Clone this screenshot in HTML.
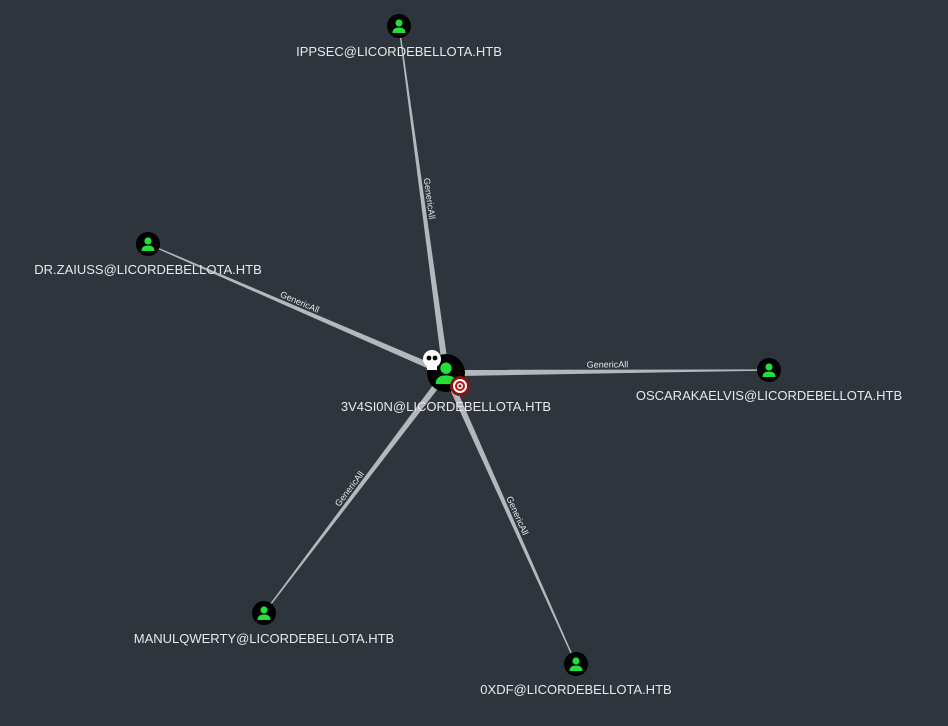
<!DOCTYPE html>
<html><head><meta charset="utf-8"><style>
html,body{margin:0;padding:0;background:#2f353d;width:948px;height:726px;overflow:hidden}
svg{display:block}
text{font-family:"Liberation Sans",sans-serif}
</style></head><body>
<svg id="g" width="948" height="726">
<rect width="948" height="726" fill="#2f353d"/>
<g id="edges"></g><g id="nodes"></g>
</svg>
<script>
const names=["IPPSEC@LICORDEBELLOTA.HTB","DR.ZAIUSS@LICORDEBELLOTA.HTB","OSCARAKAELVIS@LICORDEBELLOTA.HTB","MANULQWERTY@LICORDEBELLOTA.HTB","0XDF@LICORDEBELLOTA.HTB"];
const nx=[399,148,769,264,576];
const ny=[26,244,370,613,664];
const rel=["GenericAll","GenericAll","GenericAll","GenericAll","GenericAll"];
const center={name:"3V4SI0N@LICORDEBELLOTA.HTB",x:446,y:373};
const NS="http://www.w3.org/2000/svg";
const E=document.getElementById('edges'),N=document.getElementById('nodes');
function mk(t,a,p){const e=document.createElementNS(NS,t);for(const k in a)e.setAttribute(k,a[k]);p.appendChild(e);return e;}
function person(x,y,r,p){
  mk('circle',{cx:x,cy:y,r:r,fill:'#000'},p);
  const s=r/12;
  mk('circle',{cx:x,cy:y-3*s,r:3.6*s,fill:'#22e03a'},p);
  mk('path',{d:`M${x-6.5*s} ${y+7*s} Q${x-6.5*s} ${y+1.5*s} ${x} ${y+1.5*s} Q${x+6.5*s} ${y+1.5*s} ${x+6.5*s} ${y+7*s} Z`,fill:'#22e03a'},p);
}
for(let i=0;i<names.length;i++){
  const dx=center.x-nx[i],dy=center.y-ny[i],L=Math.hypot(dx,dy),px=-dy/L,py=dx/L;
  const g=mk('g',{},E);
  
  
  const w0=0.6,w1=3.2;
  mk('polygon',{points:`${nx[i]+px*w0},${ny[i]+py*w0} ${center.x+px*w1},${center.y+py*w1} ${center.x-px*w1},${center.y-py*w1} ${nx[i]-px*w0},${ny[i]-py*w0}`,fill:'#b4b8bc'},g);
  const mx=(nx[i]+center.x)/2,my=(ny[i]+center.y)/2;
  let ang=Math.atan2(dy,dx)*180/Math.PI;if(ang>90)ang-=180;if(ang<-90)ang+=180;
  const t=mk('text',{x:mx,y:my,'font-size':9,fill:'#e6e6e6','text-anchor':'middle',transform:`rotate(${ang} ${mx} ${my}) translate(0,-4)`},g);
  t.textContent=rel[i];
  
  
}
for(let i=0;i<names.length;i++){
  const g=mk('g',{},N);
  
  
  person(nx[i],ny[i],12,g);
  const t=mk('text',{x:nx[i],y:ny[i]+30,'font-size':13,fill:'#e8e8e8','text-anchor':'middle'},g);
  t.textContent=names[i];
}
const cg=mk('g',{},N);


person(center.x,center.y,19,cg);
mk('circle',{cx:center.x-14,cy:center.y-14,r:9,fill:'#fff'},cg);
mk('circle',{cx:center.x-17,cy:center.y-15,r:2.4,fill:'#000'},cg);
mk('circle',{cx:center.x-11,cy:center.y-15,r:2.4,fill:'#000'},cg);
mk('rect',{x:center.x-19,y:center.y-8,width:10,height:5,fill:'#fff'},cg);
mk('circle',{cx:center.x+14,cy:center.y+13,r:10,fill:'#8e1010'},cg);
mk('circle',{cx:center.x+14,cy:center.y+13,r:7,fill:'#fff'},cg);
mk('circle',{cx:center.x+14,cy:center.y+13,r:5,fill:'#b31515'},cg);
mk('circle',{cx:center.x+14,cy:center.y+13,r:3,fill:'#fff'},cg);
mk('circle',{cx:center.x+14,cy:center.y+13,r:1.5,fill:'#b31515'},cg);
const ct=mk('text',{x:center.x,y:center.y+38,'font-size':13,fill:'#e8e8e8','text-anchor':'middle'},cg);
ct.textContent=center.name;
</script>
</body></html>
